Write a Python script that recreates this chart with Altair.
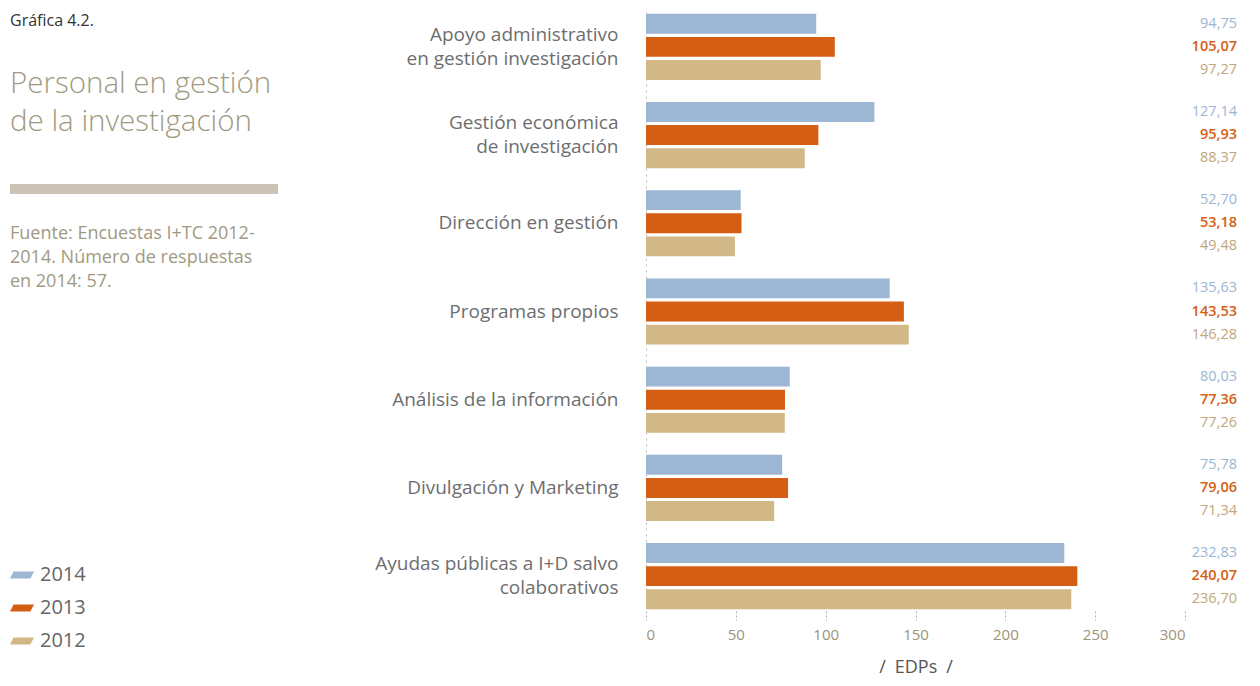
import altair as alt
import pandas as pd

categories = [
    "Apoyo administrativo\nen gestión investigación",
    "Gestión económica\nde investigación",
    "Dirección en gestión",
    "Programas propios",
    "Análisis de la información",
    "Divulgación y Marketing",
    "Ayudas públicas a I+D salvo\ncolaborativos",
]
years = ["2014", "2013", "2012"]
v2014 = [94.75, 127.14, 52.70, 135.63, 80.03, 75.78, 232.83]
v2013 = [105.07, 95.93, 53.18, 143.53, 77.36, 79.06, 240.07]
v2012 = [97.27, 88.37, 49.48, 146.28, 77.26, 71.34, 236.70]
x_ticks = [0, 50, 100, 150, 200, 250, 300]
colors = ["#9db6d3", "#d45e13", "#d3b887"]
text_colors = ["#9db6d3", "#d45e13", "#bfa77c"]

rows = []
for yr, vals in zip(years, [v2014, v2013, v2012]):
    for c, v in zip(categories, vals):
        rows.append({"cat": c, "year": yr, "value": v,
                     "label": f"{v:.2f}".replace(".", ",")})
df = pd.DataFrame(rows)

FONT = "Open Sans"
path = "M-1,0.3 L-0.7,-0.3 L1,-0.3 L0.7,0.3 Z"
TOP = 4

y_enc = alt.Y("cat:N", sort=categories,
              scale=alt.Scale(paddingInner=0.25, paddingOuter=0.02),
              axis=alt.Axis(title=None, labelExpr="split(datum.label, '\\n')",
                            labelFontSize=19, labelColor="#6d6e70", labelFont=FONT,
                            labelPadding=28, ticks=False, domain=True,
                            domainDash=[2, 4], domainColor="#bbbbbb",
                            labelLineHeight=24, labelLimit=500,
                            labelOffset={"condition": {"test": "indexof(datum.value, '\\n') >= 0",
                                                       "value": -12}, "value": 0}))
yoff = alt.YOffset("year:N", sort=years, scale=alt.Scale(paddingInner=0.14))

bars = alt.Chart(df).mark_bar().encode(
    x=alt.X("value:Q", scale=alt.Scale(domain=[0, 300], nice=False),
            axis=alt.Axis(values=x_ticks, title="/\u2002EDPs\u2002/", titleFontSize=18,
                          titleColor="#555555", titleFont=FONT, titleFontWeight="normal",
                          titlePadding=16, labelFontSize=15, labelColor="#9c9478",
                          labelFont=FONT, domain=False, tickDash=[2, 2],
                          tickColor="#aaaaaa", tickSize=9, labelPadding=7,
                          grid=False, format="d")),
    y=y_enc,
    yOffset=yoff,
    color=alt.Color("year:N", sort=years,
                    scale=alt.Scale(domain=years, range=colors),
                    legend=alt.Legend(orient="none", legendX=-636, legendY=555 - TOP,
                                      title=None, symbolType=path, symbolSize=576,
                                      symbolStrokeWidth=0, labelFontSize=20,
                                      labelColor="#666666", labelFont=FONT,
                                      rowPadding=11, labelOffset=6, padding=0,
                                      symbolOpacity=1)),
)

def value_text(yr, color, weight):
    return alt.Chart(df).transform_filter(alt.datum.year == yr).mark_text(
        align="right", baseline="middle", fontSize=14.5, font=FONT,
        fontWeight=weight, color=color
    ).encode(x=alt.value(591), y=alt.Y("cat:N", sort=categories), yOffset=yoff,
             text="label:N")

vt = [value_text(y, c, 600 if y == "2013" else "normal")
      for y, c in zip(years, text_colors)]

g = alt.Chart(pd.DataFrame({"t": ["Gráfica 4.2."]})).mark_text(
    align="left", baseline="middle", fontSize=16, font=FONT, color="#333333"
).encode(x=alt.value(-636), y=alt.value(13 - TOP), text="t:N")

title = alt.Chart(pd.DataFrame({"t": ["Personal en gestión\nde la investigación"]})).mark_text(
    align="left", baseline="alphabetic", fontSize=29.5, font=FONT, fontWeight=300,
    color="#a09a82", lineBreak="\n", lineHeight=38
).encode(x=alt.value(-636), y=alt.value(85 - TOP), text="t:N")

rule = alt.Chart(pd.DataFrame({"t": [0]})).mark_rect(color="#cbc3b6").encode(
    x=alt.value(-636), x2=alt.value(-368), y=alt.value(176 - TOP), y2=alt.value(186 - TOP))

src = alt.Chart(pd.DataFrame({"t": ["Fuente: Encuestas I+TC 2012-\n2014. Número de respuestas\nen 2014: 57."]})).mark_text(
    align="left", baseline="alphabetic", fontSize=18, font=FONT,
    color="#a09a82", lineBreak="\n", lineHeight=24
).encode(x=alt.value(-636), y=alt.value(231 - TOP), text="t:N")

chart = alt.layer(bars, *vt, g, title, rule, src).properties(
    width=539, height=603 - TOP, autosize="none",
    padding={"left": 638, "top": TOP, "right": 67, "bottom": 67},
).configure(font=FONT, view={"stroke": "transparent"})

chart.save("out.html", embed_options={"renderer": "svg", "actions": False})
